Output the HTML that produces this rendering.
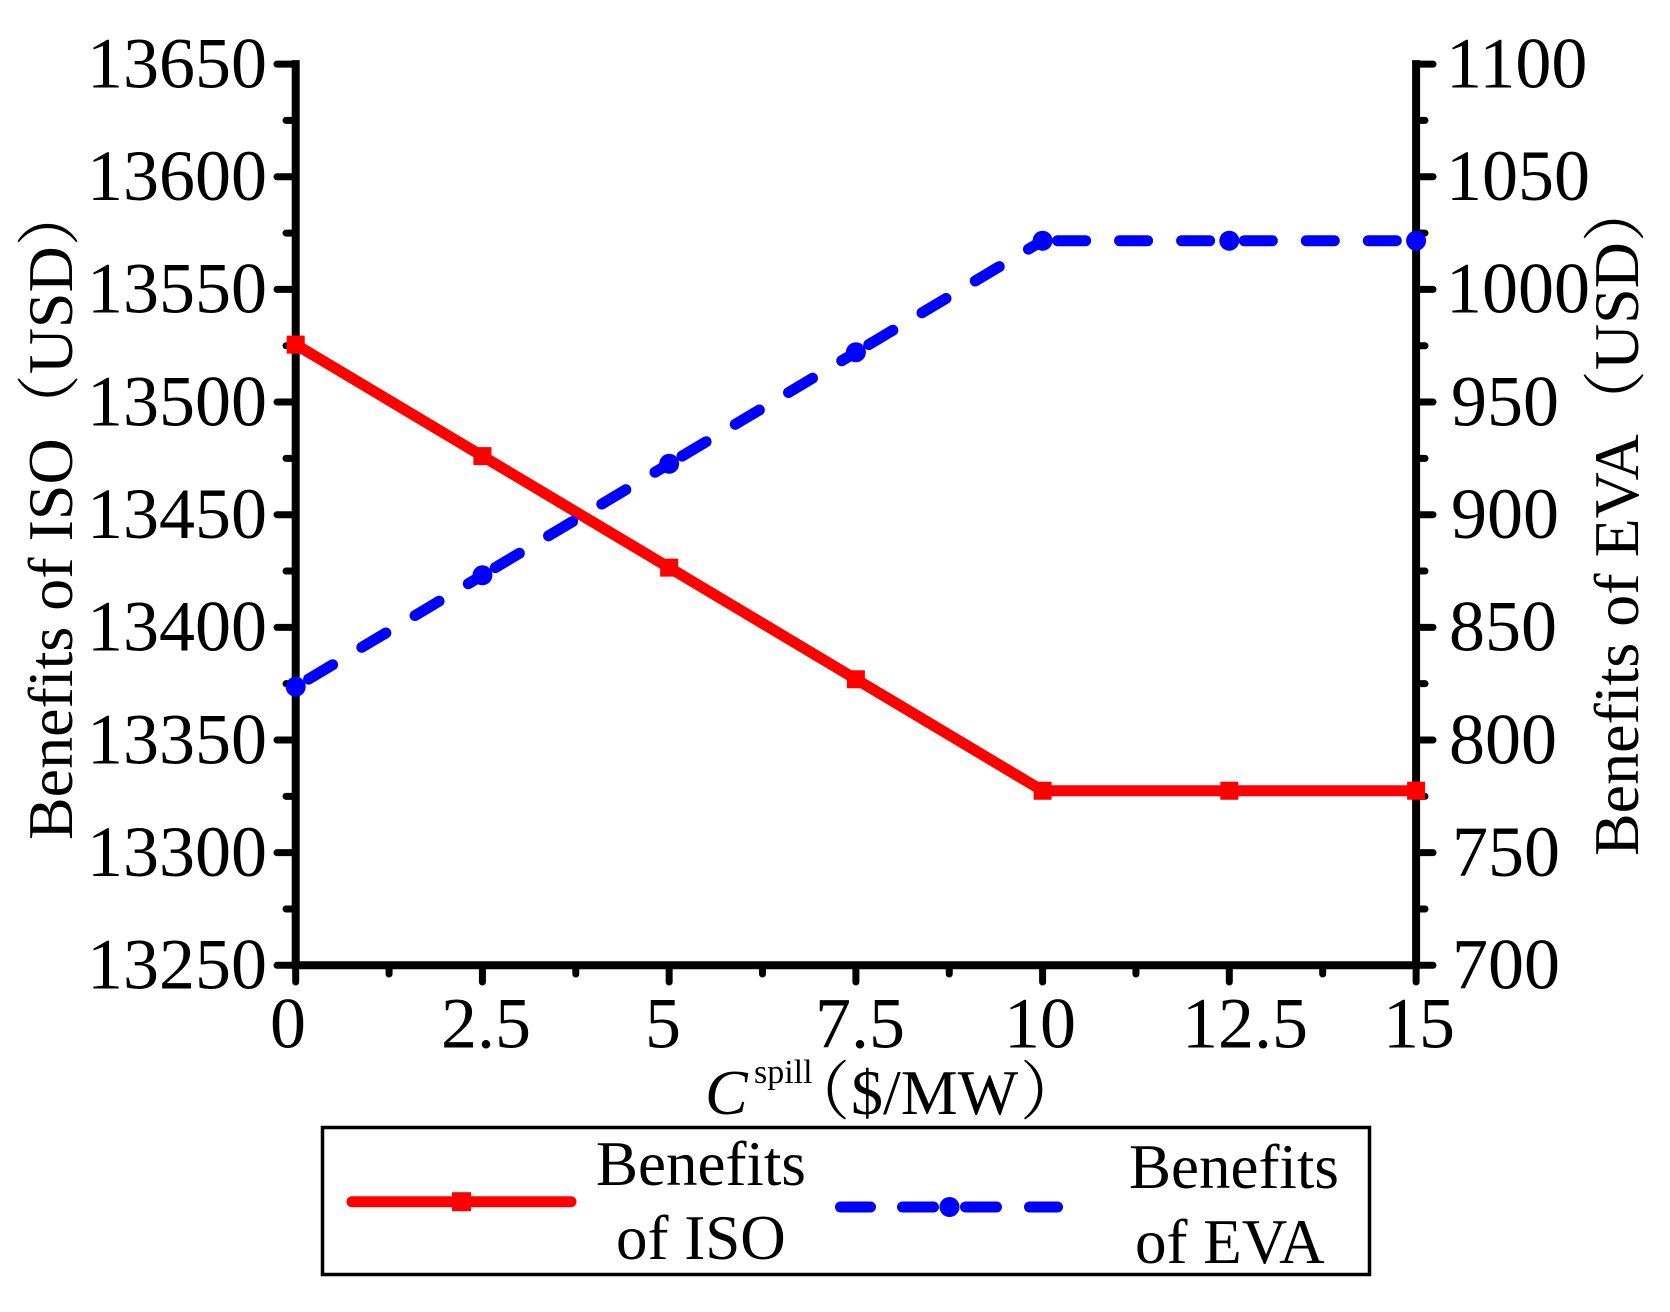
<!DOCTYPE html>
<html>
<head>
<meta charset="utf-8">
<style>
html,body{margin:0;padding:0;background:#fff;}
svg{display:block;}
text{font-family:"Liberation Serif","Noto Serif CJK SC",serif;fill:#000;}
</style>
</head>
<body>
<svg width="1670" height="1312" viewBox="0 0 1670 1312" xmlns="http://www.w3.org/2000/svg">
<rect width="1670" height="1312" fill="#fff"/>
<path d="M295.7 64.1V965.3H1416.1V64.1" fill="none" stroke="#000" stroke-width="8" stroke-linecap="square"/>
<path fill="none" stroke="#000" stroke-width="7" stroke-linecap="round" d="M295.7 965.3H277M295.7 852.65H277M295.7 740H277M295.7 627.35H277M295.7 514.7H277M295.7 402.05H277M295.7 289.4H277M295.7 176.75H277M295.7 64.1H277M295.7 908.98H286M295.7 796.33H286M295.7 683.68H286M295.7 571.03H286M295.7 458.38H286M295.7 345.73H286M295.7 233.08H286M295.7 120.43H286M1416.1 965.3H1433M1416.1 852.65H1433M1416.1 740H1433M1416.1 627.35H1433M1416.1 514.7H1433M1416.1 402.05H1433M1416.1 289.4H1433M1416.1 176.75H1433M1416.1 64.1H1433M1416.1 908.98H1425M1416.1 796.33H1425M1416.1 683.68H1425M1416.1 571.03H1425M1416.1 458.38H1425M1416.1 345.73H1425M1416.1 233.08H1425M1416.1 120.43H1425M295.7 965.3V982M482.43 965.3V982M669.16 965.3V982M855.9 965.3V982M1042.6 965.3V982M1229.3 965.3V982M1416.1 965.3V982M389.07 965.3V974M575.8 965.3V974M762.5 965.3V974M949.25 965.3V974M1135.95 965.3V974M1322.7 965.3V974"/>
<g font-size="72" text-anchor="end">
<text x="267" y="988.6">13250</text><text x="267" y="875.95">13300</text><text x="267" y="763.3">13350</text><text x="267" y="650.65">13400</text><text x="267" y="538">13450</text><text x="267" y="425.35">13500</text><text x="267" y="312.7">13550</text><text x="267" y="200.05">13600</text><text x="267" y="87.4">13650</text>
</g>
<g font-size="72">
<text x="1452" y="988.6">700</text><text x="1452" y="875.95">750</text><text x="1449" y="763.3">800</text><text x="1449" y="650.65">850</text><text x="1451" y="538">900</text><text x="1451" y="425.35">950</text><text x="1446" y="312.7">1000</text><text x="1446" y="200.05">1050</text><text x="1446" y="87.4">1100</text>
</g>
<g font-size="72" text-anchor="middle">
<text x="288" y="1047.5">0</text><text x="486" y="1047.5">2.5</text><text x="663" y="1047.5">5</text><text x="860" y="1047.5">7.5</text><text x="1040" y="1047.5">10</text><text x="1245" y="1047.5">12.5</text><text x="1419" y="1047.5">15</text>
</g>
<text x="705" y="1114" font-size="64" font-style="italic">C</text>
<text x="754" y="1083" font-size="34">spill</text>
<text x="786" y="1114" font-size="64">（</text>
<text x="851" y="1114" font-size="64">$/MW</text>
<text x="1020" y="1114" font-size="64">）</text>
<text transform="translate(72,840) rotate(-90)" font-size="64">Benefits of ISO（USD）</text>
<text transform="translate(1638,856) rotate(-90)" font-size="64">Benefits of EVA（USD）</text>
<polyline points="295.7,344.6 482.43,456.1 669.16,567.6 855.9,679.2 1042.6,790.7 1229.3,790.7 1416.1,790.7" fill="none" stroke="#ff0000" stroke-width="11" stroke-linejoin="round"/>
<path fill="#ff0000" d="M286.7 335.6h18v18h-18zM473.43 447.1h18v18h-18zM660.16 558.6h18v18h-18zM846.9 670.2h18v18h-18zM1033.6 781.7h18v18h-18zM1220.3 781.7h18v18h-18zM1407.1 781.7h18v18h-18z"/>
<g fill="none" stroke="#0000ff" stroke-width="11" stroke-linecap="round" stroke-dasharray="28 34" stroke-dashoffset="-15">
<path d="M295.7 686.8L482.43 575.3"/><path d="M482.43 575.3L669.16 463.8"/><path d="M669.16 463.8L855.9 352.3"/><path d="M855.9 352.3L1042.6 240.7"/><path d="M1042.6 240.7H1229.3"/><path d="M1229.3 240.7H1416.1"/>
</g>
<g fill="#0000ff">
<circle cx="295.7" cy="686.8" r="10"/><circle cx="482.43" cy="575.3" r="10"/><circle cx="669.16" cy="463.8" r="10"/><circle cx="855.9" cy="352.3" r="10"/><circle cx="1042.6" cy="240.7" r="10"/><circle cx="1229.3" cy="240.7" r="10"/><circle cx="1416.1" cy="240.7" r="10"/>
</g>
<rect x="322.5" y="1127.5" width="1047" height="147" fill="none" stroke="#000" stroke-width="3.5"/>
<path d="M352 1201.7H571" stroke="#ff0000" stroke-width="11" stroke-linecap="round"/>
<rect x="452" y="1192.2" width="19" height="19" fill="#ff0000"/>
<path d="M840.5 1207H870.5M902.5 1207H933.5M965.5 1207H996.5M1029.5 1207H1057.5" stroke="#0000ff" stroke-width="11" stroke-linecap="round"/>
<circle cx="949.5" cy="1207" r="10" fill="#0000ff"/>
<g font-size="63">
<text x="596" y="1185">Benefits</text><text x="616" y="1259">of ISO</text><text x="1129" y="1188">Benefits</text><text x="1135" y="1263">of EVA</text>
</g>
</svg>
</body>
</html>
